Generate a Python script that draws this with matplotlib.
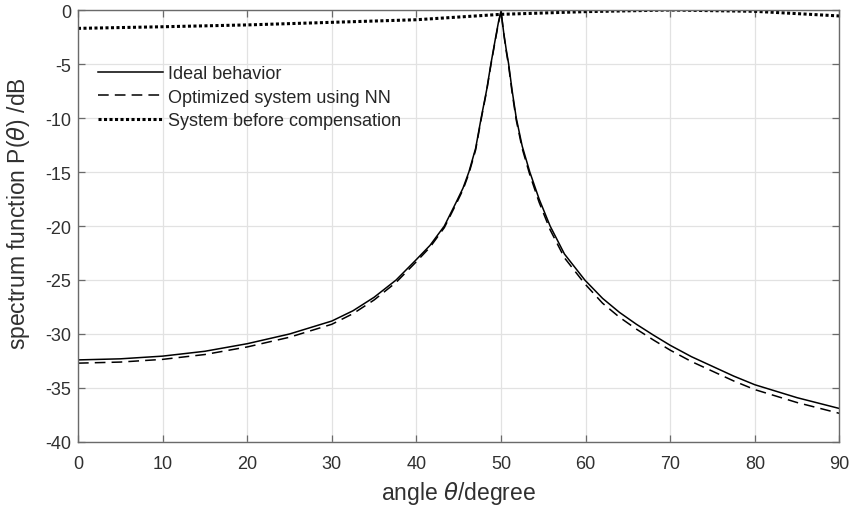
import numpy as np
import matplotlib
matplotlib.use('Agg')
import matplotlib.pyplot as plt

plt.rcParams['font.family'] = ['Liberation Sans', 'DejaVu Sans']
plt.rcParams['mathtext.fontset'] = 'dejavusans'
plt.rcParams['axes.unicode_minus'] = False

# 이상적 스펙트럼
theta_ideal = [0, 5, 10, 15, 20, 25, 30, 32.5, 35, 37.6, 40, 41.6, 43.3, 44.7,
               45.5, 46.2, 47, 47.65, 48.3, 48.8, 49.3, 49.7, 50, 50.3, 50.6, 50.9,
               51.3, 51.8, 52.5, 53.4, 54.5, 55.8, 57.5, 59.9, 62, 64, 66, 68, 70,
               72.5, 75, 77.5, 80, 85, 90]
p_ideal = [-32.4, -32.3, -32.05, -31.6, -30.9, -30.0, -28.8, -27.85, -26.6, -25.0,
           -23.1, -21.8, -20.0, -17.8, -16.5, -15.0, -12.8, -10.0, -7.4, -5.0, -2.8,
           -1.1, -0.1, -2.0, -3.6, -5.0, -7.4, -10.0, -12.6, -15.0, -17.5, -20.0,
           -22.6, -25.0, -26.7, -28.0, -29.1, -30.1, -31.05, -32.1, -33.0, -33.9,
           -34.7, -35.9, -36.9]

# NN 보정 후 (이상값보다 약간 낮음)
theta_nn = theta_ideal
p_nn = [-32.7, -32.6, -32.35, -31.9, -31.2, -30.3, -29.1, -28.12, -26.85, -25.22,
        -23.3, -21.97, -20.15, -17.95, -16.65, -15.15, -12.95, -10.12, -7.5, -5.1,
        -2.9, -1.2, -0.1, -2.1, -3.75, -5.18, -7.6, -10.2, -12.82, -15.25, -17.8,
        -20.35, -22.95, -25.35, -27.15, -28.45, -29.55, -30.55, -31.5, -32.55,
        -33.45, -34.35, -35.15, -36.35, -37.35]

# 보정 전 시스템
theta_before = [0, 10, 20, 30, 40, 50, 60, 70, 80, 90]
p_before = [-1.7, -1.55, -1.38, -1.14, -0.9, -0.4, -0.15, 0.0, -0.12, -0.55]

fig = plt.figure(figsize=(8.54, 5.10), dpi=100)
ax = fig.add_axes([0.0913, 0.1314, 0.8917, 0.847])

ax.plot(theta_ideal, p_ideal, color='black', lw=1.1, label='Ideal behavior')
ax.plot(theta_nn, p_nn, color='black', lw=1.1, dashes=(7, 4),
        label='Optimized system using NN')
ax.plot(theta_before, p_before, color='black', lw=2.2, dashes=(1, 0.8),
        label='System before compensation')

ax.set_xlim(0, 90)
ax.set_ylim(-40, 0)
ax.set_xticks(np.arange(0, 91, 10))
ax.set_yticks(np.arange(-40, 1, 5))
ax.grid(True, color='#e2e2e2', lw=0.9)
ax.set_axisbelow(True)

for s in ax.spines.values():
    s.set_color('#6a6a6a')
    s.set_linewidth(1.0)
ax.tick_params(direction='in', top=True, right=True, length=5, width=0.9,
               color='#6a6a6a', labelcolor='#303030', labelsize=13)
ax.tick_params(axis='x', pad=9.5)
ax.tick_params(axis='y', pad=5)

ax.set_xlabel(r'angle $\theta$/degree', fontsize=16.5, color='#303030', labelpad=5)
ax.set_ylabel(r'spectrum function P($\theta$) /dB', fontsize=16.5, color='#303030')
ax.yaxis.set_label_coords(-0.061, 0.53)

leg = ax.legend(loc='upper left', bbox_to_anchor=(0.026, 0.873), frameon=False,
                fontsize=13, handlelength=3.6, handletextpad=0.3, labelspacing=0.37,
                borderaxespad=0, borderpad=0)
for t in leg.get_texts():
    t.set_color('#262626')

fig.savefig('out.png', dpi=100)
